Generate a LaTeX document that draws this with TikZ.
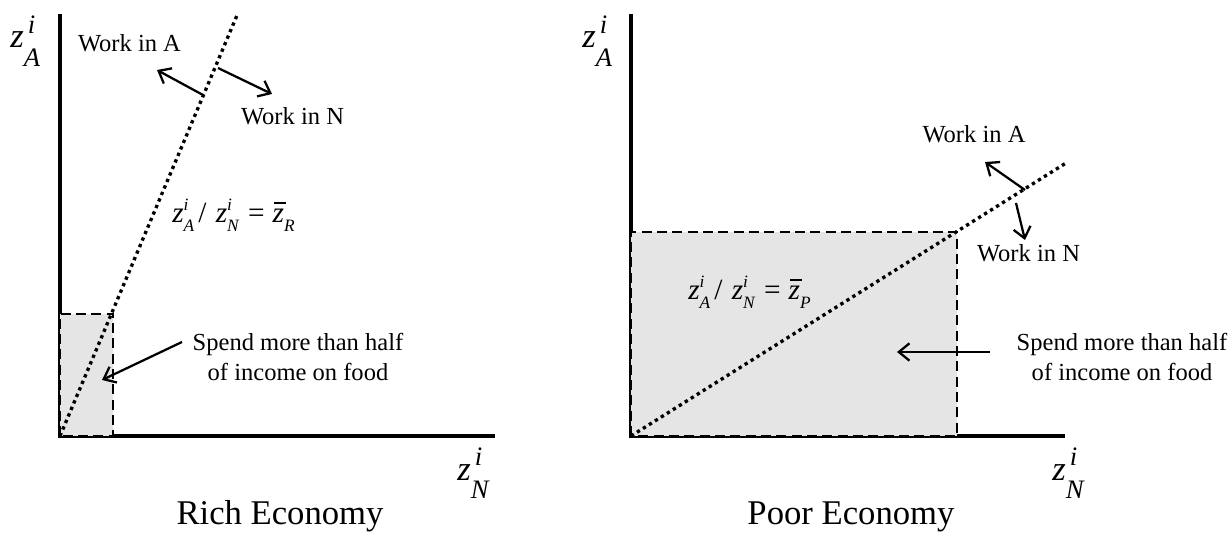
\documentclass[tikz,border=0pt]{standalone}
\usepackage{fontspec}
\setmainfont{Liberation Serif}
\usetikzlibrary{arrows.meta}
\definecolor{boxgray}{gray}{0.9}
\newcommand{\axlab}[1]{{\fontsize{26}{26}\selectfont\itshape z}\rlap{\hspace{3pt}\raisebox{11pt}{\fontsize{20}{20}\selectfont\itshape i}}\raisebox{-14pt}{\fontsize{20}{20}\selectfont\itshape #1}}
\newcommand{\zs}[2]{\textit{z}\rlap{\raisebox{0.42em}{\fontsize{13}{13}\selectfont\itshape #1}}\raisebox{-0.3em}{\fontsize{13}{13}\selectfont\itshape #2}}
\newcommand{\zbar}[1]{\rlap{\hspace{0.05em}\rule[0.66em]{0.4em}{0.05em}}\textit{z}\raisebox{-0.3em}{\fontsize{13}{13}\selectfont\itshape #1}}
\newcommand{\ratioeq}[1]{\zs{i}{A}\hspace{3pt}/\hspace{7pt}\zs{i}{N}\hspace{7pt}=\hspace{6pt}\zbar{#1}}
\tikzset{
 axisline/.style={line width=2.6pt},
 ratioline/.style={line width=2.5pt, dash pattern=on 2.5pt off 2.8pt},
 foodbox/.style={fill=boxgray, draw=black, line width=2pt, dash pattern=on 7.5pt off 4pt},
 arr/.style={line width=1.7pt, -{Straight Barb[length=8pt,width=13pt,line width=1.7pt]}},
 lbl/.style={font=\fontsize{18.4}{22.5}\selectfont, inner sep=0pt},
 ttl/.style={font=\fontsize{26}{30}\selectfont, inner sep=0pt},
 axlbl/.style={inner sep=0pt, anchor=base west},
 eqlbl/.style={font=\fontsize{22}{22}\selectfont, inner sep=0pt, anchor=base west},
}
\begin{document}
\begin{tikzpicture}[x=0.75pt,y=-0.75pt]
\useasboundingbox (0,0) rectangle (1232,538);
% ---------------- Left panel: Rich economy ----------------
\coordinate (O1) at (60,436);
\coordinate (Y1) at (60,14);
\coordinate (X1) at (495,436);
\coordinate (T1) at (238,13);
\draw[axisline] (Y1) -- (O1) -- (X1);
\draw[foodbox] (O1) rectangle (113,314);
\draw[ratioline] (O1) -- (T1);
\node[axlbl] (ylab1) at (10,48) {\axlab{A}};
\node[axlbl] (xlab1) at (457,480) {\axlab{N}};
\node[eqlbl] (eq1) at (172,223) {\ratioeq{R}};
\node[lbl, anchor=base] (wa1) at (129.5,52) {Work in A};
\node[lbl, anchor=base] (wn1) at (292.5,125) {Work in N};
\coordinate (a1s) at (203,95);
\coordinate (a1e) at (157,70);
\coordinate (n1s) at (218,68);
\coordinate (n1e) at (272,94);
\draw[arr] (a1s) -- (a1e);
\draw[arr] (n1s) -- (n1e);
\node[lbl, align=center] (sp1) at (298,357) {Spend more than half\\of income on food};
\coordinate (s1s) at (182,342);
\coordinate (s1e) at (102,380);
\draw[arr] (s1s) -- (s1e);
\node[ttl, anchor=base] (t1) at (280,524) {Rich Economy};
% ---------------- Right panel: Poor economy ----------------
\coordinate (O2) at (631,436);
\coordinate (Y2) at (631,14);
\coordinate (X2) at (1065,436);
\coordinate (T2) at (1066,163);
\draw[axisline] (Y2) -- (O2) -- (X2);
\draw[foodbox] (O2) rectangle (957,232);
\draw[ratioline] (O2) -- (T2);
\node[axlbl] (ylab2) at (582,48) {\axlab{A}};
\node[axlbl] (xlab2) at (1052,480) {\axlab{N}};
\node[eqlbl] (eq2) at (688,300) {\ratioeq{P}};
\node[lbl, anchor=base] (wa2) at (974,143) {Work in A};
\node[lbl, anchor=base] (wn2) at (1028.5,262) {Work in N};
\coordinate (a2s) at (1025,190);
\coordinate (a2e) at (985,162);
\coordinate (n2s) at (1016,203);
\coordinate (n2e) at (1025,240);
\draw[arr] (a2s) -- (a2e);
\draw[arr] (n2s) -- (n2e);
\node[lbl, align=center] (sp2) at (1122,357) {Spend more than half\\of income on food};
\coordinate (s2s) at (990,352);
\coordinate (s2e) at (897,352);
\draw[arr] (s2s) -- (s2e);
\node[ttl, anchor=base] (t2) at (851,524) {Poor Economy};
\end{tikzpicture}
\end{document}
